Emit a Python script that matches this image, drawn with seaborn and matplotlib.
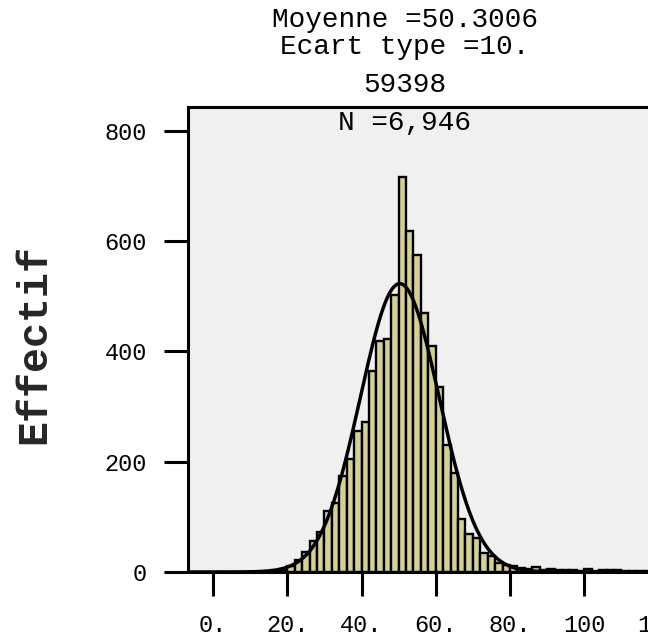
import numpy as np
import pandas as pd
import matplotlib
matplotlib.use("Agg")
import matplotlib.pyplot as plt
import seaborn as sns

# ---- data ----
bin_starts = [18, 20, 22, 24, 26, 28, 30, 32, 34, 36, 38, 40, 42, 44, 46, 48,
              50, 52, 54, 56, 58, 60, 62, 64, 66, 68, 70, 72, 74, 76, 78, 80,
              82, 84, 86, 88, 90, 92, 94, 96, 98, 100, 102, 104, 106, 108,
              110, 112, 114, 116]
counts = [3, 10, 22, 37, 56, 73, 111, 126, 175, 205, 255, 273, 365, 419, 422, 502,
          716, 619, 575, 470, 410, 336, 230, 179, 97, 69, 62, 34, 29, 17, 13, 10,
          7, 5, 9, 4, 5, 4, 4, 3, 2, 6, 2, 3, 3, 3,
          2, 2, 2, 1]
BIN_WIDTH = 2
MEAN = 50.3006
SD = 10.59398
N = 6946
xtick_values = [0, 20, 40, 60, 80, 100, 120]
xtick_labels = ["0.", "20.", "40.", "60.", "80.", "100", "120"]
ytick_values = [0, 200, 400, 600, 800]
ytick_labels = ["0", "200", "400", "600", "800"]
title_lines = ["Moyenne =50.3006", "Ecart type =10.", "59398"]
n_text = "N =6,946"
y_label = "Effectif"

# ---- style ----
sns.set_theme(style="white")
plt.rcParams['font.family'] = ['Liberation Mono', 'DejaVu Sans']

W, H = 648, 638
fig = plt.figure(figsize=(W / 100, H / 100), dpi=100)
fig.patch.set_facecolor("white")

# axes in pixels: left 188, right 700 (beyond figure edge), bottom 572, top 107
ax_left, ax_right, ax_bottom, ax_top = 188, 700, 572, 107
ax = fig.add_axes([ax_left / W, (H - ax_bottom) / H,
                   (ax_right - ax_left) / W, (ax_bottom - ax_top) / H])
ax.set_facecolor("#f0f0f0")

px_per_unit = 3.7125
x0_px = 213
XMIN = (ax_left - x0_px) / px_per_unit
XMAX = (ax_right - x0_px) / px_per_unit
YMAX = 843.5

df = pd.DataFrame({"center": [b + BIN_WIDTH / 2 for b in bin_starts],
                   "count": counts})
edges = list(bin_starts) + [bin_starts[-1] + BIN_WIDTH]
sns.histplot(data=df, x="center", weights="count", bins=edges,
             color="#d3cf99", edgecolor="black", linewidth=1.7, alpha=1,
             ax=ax, zorder=2)

# fitted normal curve from the displayed statistics
xs = np.linspace(XMIN, XMAX, 600)
ys = N * BIN_WIDTH * np.exp(-0.5 * ((xs - MEAN) / SD) ** 2) / (SD * np.sqrt(2 * np.pi))
sns.lineplot(x=xs, y=ys, color="black", linewidth=2.5, ax=ax, zorder=3)

ax.set_xlim(XMIN, XMAX)
ax.set_ylim(0, YMAX)
ax.set_xticks(xtick_values)
ax.set_xticklabels(xtick_labels, fontsize=17)
ax.set_yticks(ytick_values)
ax.set_yticklabels(ytick_labels, fontsize=17)
ax.tick_params(axis="x", which="major", bottom=True, top=False,
               direction="out", length=17.5, width=2.2,
               color="black", pad=13, labelcolor="black")
ax.tick_params(axis="y", which="major", left=True, right=False,
               direction="out", length=17.5, width=2.2,
               color="black", pad=12, labelcolor="black")
ax.set_xlabel("")
ax.set_ylabel(y_label, fontsize=30, fontweight="bold", va="center")
ax.yaxis.set_label_coords((34 - ax_left) / (ax_right - ax_left),
                          (ax_bottom - 344) / (ax_bottom - ax_top))
for side in ["left", "top", "bottom", "right"]:
    ax.spines[side].set_visible(True)
    ax.spines[side].set_color("black")
    ax.spines[side].set_linewidth(2.2)

# statistics block (title)
cx = 405 / W
baselines = [27.0, 54.0, 91.7]
for line, b in zip(title_lines, baselines):
    fig.text(cx, 1 - b / H, line, ha="center", va="baseline", fontsize=20,
             color="black")
fig.text(cx, 1 - 130 / H, n_text, ha="center", va="baseline", fontsize=20,
         color="black")

fig.savefig("out.png", dpi=100, facecolor="white")
